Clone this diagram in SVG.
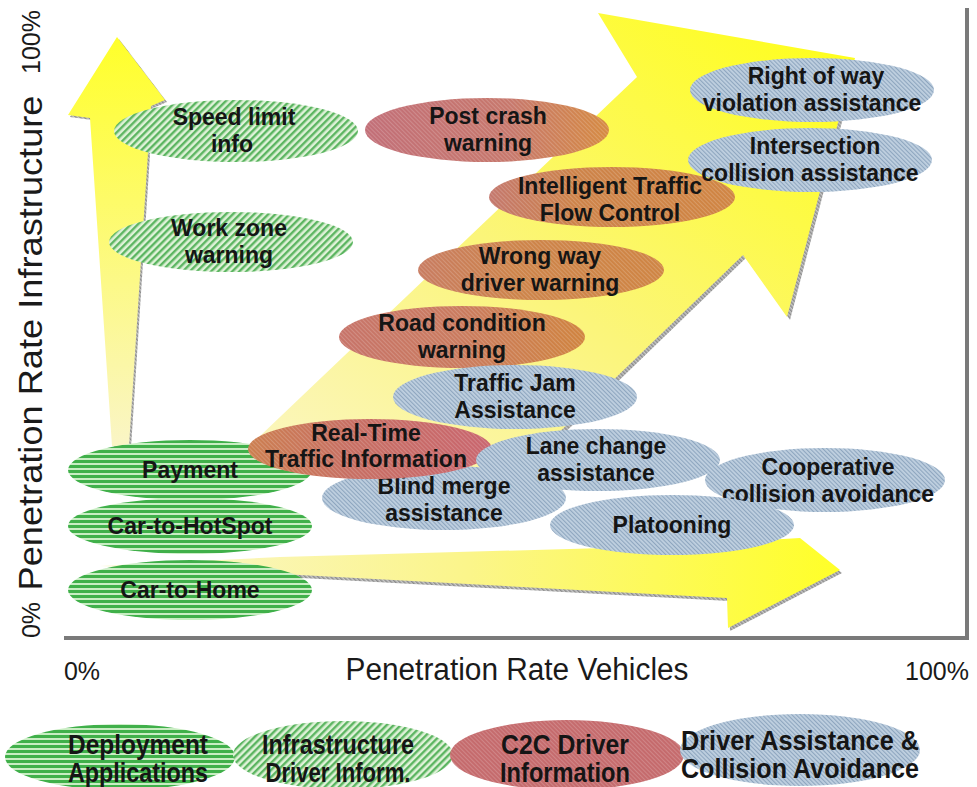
<svg xmlns="http://www.w3.org/2000/svg" width="977" height="787" viewBox="0 0 977 787">
<style>
.t{font-family:"Liberation Sans",Arial,sans-serif;font-weight:bold;font-size:23px;fill:#151515;text-anchor:middle}
.lg{font-family:"Liberation Sans",Arial,sans-serif;font-weight:bold;font-size:27px;fill:#151515;text-anchor:middle}
.ax{font-family:"Liberation Sans",Arial,sans-serif;font-size:25px;fill:#1a1a1a;text-anchor:middle}
.frame{stroke:#7a7a7a;stroke-width:4;fill:none}
.gd{fill:url(#pGreenDiag)}
.gh{fill:url(#pGreenHor)}
.bl{fill:url(#pBlue)}
.tex{fill:url(#pTex)}
</style>
<defs>
<pattern id="pGreenDiag" width="5" height="5" patternUnits="userSpaceOnUse" patternTransform="rotate(45)">
<rect width="5" height="5" fill="#dff2d8"/><rect width="2.4" height="5" fill="#5cb561"/>
</pattern>
<pattern id="pGreenHor" width="5" height="5" patternUnits="userSpaceOnUse">
<rect width="5" height="5" fill="#c9edc3"/><rect width="5" height="3" fill="#40b04a"/>
</pattern>
<pattern id="pBlue" width="3" height="3" patternUnits="userSpaceOnUse" patternTransform="rotate(-45)">
<rect width="3" height="3" fill="#bfd0e0"/><rect width="1.1" height="3" fill="#8ea6bf"/>
</pattern>
<pattern id="pTex" width="3" height="3" patternUnits="userSpaceOnUse" patternTransform="rotate(-45)">
<rect width="1" height="3" fill="#ffffff" fill-opacity="0.18"/>
</pattern>
<pattern id="pShadow" width="3" height="3" patternUnits="userSpaceOnUse" patternTransform="rotate(-45)">
<rect width="3" height="3" fill="#c8c8c8"/><rect width="1.5" height="3" fill="#8c8c8c"/>
</pattern>
<linearGradient id="gBig" x1="0" y1="1" x2="1" y2="0">
<stop offset="0" stop-color="#fbf6c4"/><stop offset="0.45" stop-color="#fbf57a"/><stop offset="1" stop-color="#ffff14"/>
</linearGradient>
<linearGradient id="gVert" x1="0" y1="0" x2="0" y2="1">
<stop offset="0" stop-color="#ffff2a"/><stop offset="1" stop-color="#faf5c6"/>
</linearGradient>
<linearGradient id="gHor" x1="0" y1="0" x2="1" y2="0">
<stop offset="0" stop-color="#faf6d0"/><stop offset="0.5" stop-color="#fbf58a"/><stop offset="1" stop-color="#ffff28"/>
</linearGradient>
<linearGradient id="gPost" x1="0" y1="0" x2="1" y2="0">
<stop offset="0" stop-color="#c26f78"/><stop offset="0.6" stop-color="#c7786c"/><stop offset="1" stop-color="#d68b42"/>
</linearGradient>
<linearGradient id="gIntel" x1="0" y1="0" x2="1" y2="0">
<stop offset="0" stop-color="#c4786e"/><stop offset="0.35" stop-color="#cd8349"/><stop offset="1" stop-color="#d08543"/>
</linearGradient>
<linearGradient id="gWrong" x1="0" y1="0" x2="1" y2="0">
<stop offset="0" stop-color="#c87c62"/><stop offset="0.4" stop-color="#cd844a"/><stop offset="1" stop-color="#cf8544"/>
</linearGradient>
<linearGradient id="gRoad" x1="0" y1="0" x2="1" y2="0">
<stop offset="0" stop-color="#c7746a"/><stop offset="0.5" stop-color="#ca7b5e"/><stop offset="1" stop-color="#d0843f"/>
</linearGradient>
<linearGradient id="gReal" x1="0" y1="0" x2="1" y2="0">
<stop offset="0" stop-color="#cc7f50"/><stop offset="0.4" stop-color="#c76f62"/><stop offset="1" stop-color="#c9666f"/>
</linearGradient>
<path id="bigArrow" d="M240,455 L637,77 L598,13 L855,58 L787,317 L743,255 L520,470 Z"/>
<path id="vertArrow" d="M112,446 L90,118 L68,115 L117,37 L165,100 L151,106 L129,446 Z"/>
<path id="horArrow" d="M100,566 L280,557 L640,547 L800,538 L840,570 L728,628 L727,598 L300,575 Z"/>
</defs>
<rect width="977" height="787" fill="#ffffff"/>

<g id="frame">
<polyline class="frame" points="64,638 967,638 967,8"/>
</g>

<g id="arrows">
<use href="#bigArrow" transform="translate(3,3)" fill="url(#pShadow)"/>
<use href="#bigArrow" fill="url(#gBig)"/>
<use href="#vertArrow" transform="translate(2,2)" fill="url(#pShadow)"/>
<use href="#vertArrow" fill="url(#gVert)"/>
<use href="#horArrow" transform="translate(2,3)" fill="url(#pShadow)"/>
<use href="#horArrow" fill="url(#gHor)"/>
</g>

<g id="axis-labels">
<text class="ax" transform="translate(40,42) rotate(-90)">100%</text>
<text class="ax" transform="translate(42,343) rotate(-90)" style="font-size:33px" textLength="495" lengthAdjust="spacingAndGlyphs">Penetration Rate Infrastructure</text>
<text class="ax" transform="translate(40,620) rotate(-90)">0%</text>
<text class="ax" x="82" y="680">0%</text>
<text class="ax" x="517" y="680" style="font-size:31px" textLength="343" lengthAdjust="spacingAndGlyphs">Penetration Rate Vehicles</text>
<text class="ax" x="937" y="680">100%</text>
</g>

<g id="payment"><ellipse class="gh" cx="190" cy="470" rx="122" ry="30"/><text class="t" x="190" y="478">Payment</text></g>
<g id="car-to-hotspot"><ellipse class="gh" cx="190" cy="526" rx="122" ry="28"/><text class="t" x="190" y="534">Car-to-HotSpot</text></g>
<g id="car-to-home"><ellipse class="gh" cx="190" cy="590" rx="122" ry="30"/><text class="t" x="190" y="598">Car-to-Home</text></g>
<g id="speed-limit"><ellipse class="gd" cx="236" cy="131" rx="122" ry="31"/><text class="t" x="234" y="125">Speed limit</text><text class="t" x="232" y="152">info</text></g>
<g id="work-zone"><ellipse class="gd" cx="231" cy="242" rx="122" ry="30"/><text class="t" x="229" y="236">Work zone</text><text class="t" x="229" y="263">warning</text></g>
<g id="post-crash"><ellipse fill="url(#gPost)" cx="487" cy="130" rx="122" ry="32"/><ellipse class="tex" cx="487" cy="130" rx="122" ry="32"/><text class="t" x="488" y="124">Post crash</text><text class="t" x="488" y="151">warning</text></g>
<g id="right-of-way"><ellipse class="bl" cx="812" cy="90" rx="122" ry="32"/><text class="t" x="816" y="84">Right of way</text><text class="t" x="812" y="111">violation assistance</text></g>
<g id="intelligent-traffic"><ellipse fill="url(#gIntel)" cx="612" cy="197" rx="123" ry="30"/><ellipse class="tex" cx="612" cy="197" rx="123" ry="30"/><text class="t" x="610" y="194">Intelligent Traffic</text><text class="t" x="610" y="221">Flow Control</text></g>
<g id="intersection"><ellipse class="bl" cx="810" cy="160" rx="122" ry="32"/><text class="t" x="815" y="154">Intersection</text><text class="t" x="810" y="181">collision assistance</text></g>
<g id="wrong-way"><ellipse fill="url(#gWrong)" cx="541" cy="270" rx="123" ry="30"/><ellipse class="tex" cx="541" cy="270" rx="123" ry="30"/><text class="t" x="540" y="264">Wrong way</text><text class="t" x="540" y="291">driver warning</text></g>
<g id="road-condition"><ellipse fill="url(#gRoad)" cx="462" cy="337" rx="123" ry="31"/><ellipse class="tex" cx="462" cy="337" rx="123" ry="31"/><text class="t" x="462" y="331">Road condition</text><text class="t" x="462" y="358">warning</text></g>
<g id="traffic-jam"><ellipse class="bl" cx="515" cy="397" rx="122" ry="32"/><text class="t" x="515" y="391">Traffic Jam</text><text class="t" x="515" y="418">Assistance</text></g>
<g id="cooperative"><ellipse class="bl" cx="825" cy="480" rx="120" ry="32"/><text class="t" x="828" y="475">Cooperative</text><text class="t" x="828" y="502">collision avoidance</text></g>
<g id="platooning"><ellipse class="bl" cx="672" cy="525" rx="122" ry="30"/><text class="t" x="672" y="533">Platooning</text></g>
<g id="blind-merge"><ellipse class="bl" cx="444" cy="498" rx="122" ry="32"/><text class="t" x="444" y="494">Blind merge</text><text class="t" x="444" y="521">assistance</text></g>
<g id="real-time"><ellipse fill="url(#gReal)" cx="370" cy="449" rx="122" ry="30"/><ellipse class="tex" cx="370" cy="449" rx="122" ry="30"/><text class="t" x="366" y="441">Real-Time</text><text class="t" x="366" y="467">Traffic Information</text></g>
<g id="lane-change"><ellipse class="bl" cx="598" cy="460" rx="122" ry="31"/><text class="t" x="596" y="454">Lane change</text><text class="t" x="596" y="481">assistance</text></g>

<g id="legend-deployment"><ellipse class="gh" cx="120" cy="757" rx="115" ry="33"/><text class="lg" x="138" y="754" textLength="140" lengthAdjust="spacingAndGlyphs">Deployment</text><text class="lg" x="138" y="782" textLength="140" lengthAdjust="spacingAndGlyphs">Applications</text></g>
<g id="legend-infrastructure"><ellipse class="gd" cx="343" cy="755" rx="110" ry="34"/><text class="lg" x="338" y="754" textLength="152" lengthAdjust="spacingAndGlyphs">Infrastructure</text><text class="lg" x="338" y="782" textLength="145" lengthAdjust="spacingAndGlyphs">Driver Inform.</text></g>
<g id="legend-c2c"><ellipse fill="#c56b6d" cx="567" cy="755" rx="117" ry="35"/><ellipse class="tex" cx="567" cy="755" rx="117" ry="35"/><text class="lg" x="565" y="754" textLength="128" lengthAdjust="spacingAndGlyphs">C2C Driver</text><text class="lg" x="565" y="782" textLength="130" lengthAdjust="spacingAndGlyphs">Information</text></g>
<g id="legend-driver-assistance"><ellipse class="bl" cx="800" cy="750" rx="120" ry="36"/><text class="lg" x="800" y="750" textLength="238" lengthAdjust="spacingAndGlyphs">Driver Assistance &amp;</text><text class="lg" x="800" y="778" textLength="238" lengthAdjust="spacingAndGlyphs">Collision Avoidance</text></g>
</svg>
